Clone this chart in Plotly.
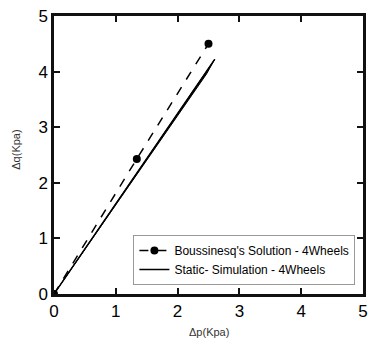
import plotly.graph_objects as go

# Boussinesq's Solution - 4Wheels
bous_p = [0.0, 1.34, 2.50]
bous_q = [0.0, 2.43, 4.50]

# Static- Simulation - 4Wheels (center line and thickened band edges)
static_p = [0.0, 2.60]
static_q = [0.0, 4.22]
band_p = [0.0, 2.60, 2.47, 0.0]
band_q = [0.0, 4.22, 3.96, 0.0]

x_ticks = [0, 1, 2, 3, 4, 5]
y_ticks = [0, 1, 2, 3, 4, 5]

fig = go.Figure()
fig.add_trace(go.Scatter(x=band_p, y=band_q, mode="lines", fill="toself",
                         fillcolor="black", line=dict(color="black", width=1),
                         showlegend=False, hoverinfo="skip"))
fig.add_trace(go.Scatter(x=bous_p, y=bous_q, mode="lines+markers",
                         name="Boussinesq's Solution - 4Wheels",
                         line=dict(color="black", width=1.5, dash="dash"),
                         marker=dict(color="black", size=8)))
fig.add_trace(go.Scatter(x=static_p, y=static_q, mode="lines",
                         name="Static- Simulation - 4Wheels",
                         line=dict(color="black", width=1.5)))

tfont = dict(family="Arial, Liberation Sans", size=17, color="black")
axis_common = dict(range=[0, 5], showline=True, linecolor="#111111", linewidth=2.5,
                   mirror="allticks", ticks="inside", ticklen=6, tickwidth=2,
                   tickcolor="#111111", showgrid=False, zeroline=False,
                   automargin=False, tickfont=tfont, ticklabeloverflow="allow")

fig.update_layout(
    width=361, height=330,
    margin=dict(l=46, r=6, t=8, b=44, autoexpand=False),
    paper_bgcolor="white", plot_bgcolor="white",
    xaxis=dict(tickvals=x_ticks, **axis_common),
    yaxis=dict(tickvals=y_ticks, **axis_common),
    legend=dict(x=0.257, y=0.212, xanchor="left", yanchor="top",
                bordercolor="#999", borderwidth=1, bgcolor="white",
                font=dict(family="Arial, Liberation Sans", size=12, color="black"),
                tracegroupgap=0),
    showlegend=True,
    annotations=[
        dict(text="Δp(Kpa)", xref="paper", yref="paper", x=0.5, y=-0.108,
             xanchor="center", yanchor="top", showarrow=False,
             font=dict(family="Arial, Liberation Sans", size=11, color="#333")),
        dict(text="Δq(Kpa)", xref="paper", yref="paper", x=-0.122, y=0.52,
             xanchor="center", yanchor="middle", showarrow=False, textangle=-90,
             font=dict(family="Arial, Liberation Sans", size=11, color="#333")),
    ],
)

fig.write_html("out.html")
